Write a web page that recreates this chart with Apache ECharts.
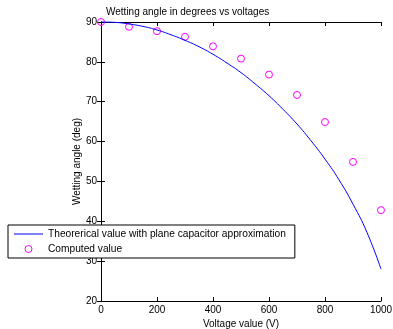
<!DOCTYPE html>
<html>
<head>
<meta charset="utf-8">
<script src="https://cdn.jsdelivr.net/npm/echarts@6/dist/echarts.min.js"></script>
<style>
  html, body { margin: 0; padding: 0; background: #fff; }
  #chart { width: 393px; height: 329px; }
</style>
</head>
<body>
<div id="chart"></div>
<script>
// theoretical curve (every 50 V)
var theoryVoltage = [0, 50, 100, 150, 200, 250, 300, 350, 400, 450, 500,
                     550, 600, 650, 700, 750, 800, 850, 900, 950, 1000];
var theoryAngle = [90, 89.9, 89.5, 88.9, 88.0, 86.8, 85.4, 83.8, 81.9, 79.7, 77.3,
                   74.5, 71.5, 68.1, 64.4, 60.2, 55.6, 50.4, 44.3, 37.2, 28.0];

// computed points
var computedVoltage = [0, 100, 200, 300, 400, 500, 600, 700, 800, 900, 1000];
var computedAngle = [90, 88.8, 87.7, 86.3, 83.9, 80.8, 76.8, 71.7, 64.9, 54.9, 42.8];

var legendNames = ['Theorerical value with plane capacitor approximation', 'Computed value'];

var font = 'Liberation Sans, Arial, Helvetica, sans-serif';

function pairs(xs, ys) {
    var out = [];
    for (var i = 0; i < xs.length; i++) {
        out.push([xs[i], ys[i]]);
    }
    return out;
}

var chart = echarts.init(document.getElementById('chart'), null, { renderer: 'canvas' });

var boxAxis = {
    axisLine: { show: true, lineStyle: { color: '#000', width: 1 } },
    axisTick: { show: true, inside: true, length: 4, lineStyle: { color: '#000' } },
    splitLine: { show: false }
};

var hollow = { color: 'rgba(255,255,255,0)', borderColor: '#ff00ff', borderWidth: 1, opacity: 1 };

var option = {
    animation: false,
    backgroundColor: '#fff',
    title: {
        text: 'Wetting angle in degrees vs voltages',
        left: 101,
        top: 2,
        textStyle: { fontFamily: font, fontSize: 10, fontWeight: 'normal', color: '#000' }
    },
    grid: { left: 101, top: 22, right: 12, bottom: 28, outerBoundsMode: 'none', containLabel: false },
    legend: {
        orient: 'vertical',
        left: 8,
        top: 225,
        padding: [3, 9, 3, 6],
        itemGap: 3,
        itemWidth: 29,
        itemHeight: 7,
        backgroundColor: '#fff',
        borderColor: '#000',
        borderWidth: 1,
        borderRadius: 0,
        z: 10,
        data: [
            { name: legendNames[0], icon: 'path://M0,0L29,0L29,1L0,1Z' },
            { name: legendNames[1], icon: 'circle', itemStyle: hollow }
        ],
        textStyle: { fontFamily: font, fontSize: 10.2, color: '#000', lineHeight: 12 }
    },
    xAxis: [
        Object.assign({
            type: 'value', position: 'bottom', min: 0, max: 1000, interval: 200,
            name: 'Voltage value (V)', nameLocation: 'middle', nameGap: 18, nameMoveOverlap: false,
            nameTextStyle: { fontFamily: font, fontSize: 10, color: '#000' },
            axisLabel: { fontFamily: font, fontSize: 10, color: '#000', margin: 4,
                         formatter: function (v) { return String(v); } }
        }, boxAxis),
        Object.assign({
            type: 'value', position: 'top', min: 0, max: 1000, interval: 200,
            axisLabel: { show: false }
        }, boxAxis)
    ],
    yAxis: [
        Object.assign({
            type: 'value', position: 'left', min: 20, max: 90, interval: 10,
            name: 'Wetting angle (deg)', nameLocation: 'middle', nameGap: 19, nameMoveOverlap: false,
            nameTextStyle: { fontFamily: font, fontSize: 10, color: '#000' },
            axisLabel: { fontFamily: font, fontSize: 10, color: '#000', margin: 4 }
        }, boxAxis),
        Object.assign({
            type: 'value', position: 'right', min: 20, max: 90, interval: 10,
            axisLabel: { show: false }
        }, boxAxis)
    ],
    series: [
        {
            name: legendNames[0],
            type: 'line',
            smooth: true,
            showSymbol: false,
            symbol: 'none',
            clip: false,
            lineStyle: { color: '#0000ff', width: 1 },
            itemStyle: { color: '#0000ff' },
            data: pairs(theoryVoltage, theoryAngle)
        },
        {
            name: legendNames[1],
            type: 'scatter',
            symbol: 'circle',
            symbolSize: 7,
            clip: false,
            itemStyle: hollow,
            data: pairs(computedVoltage, computedAngle)
        }
    ]
};

chart.setOption(option);
</script>
</body>
</html>
